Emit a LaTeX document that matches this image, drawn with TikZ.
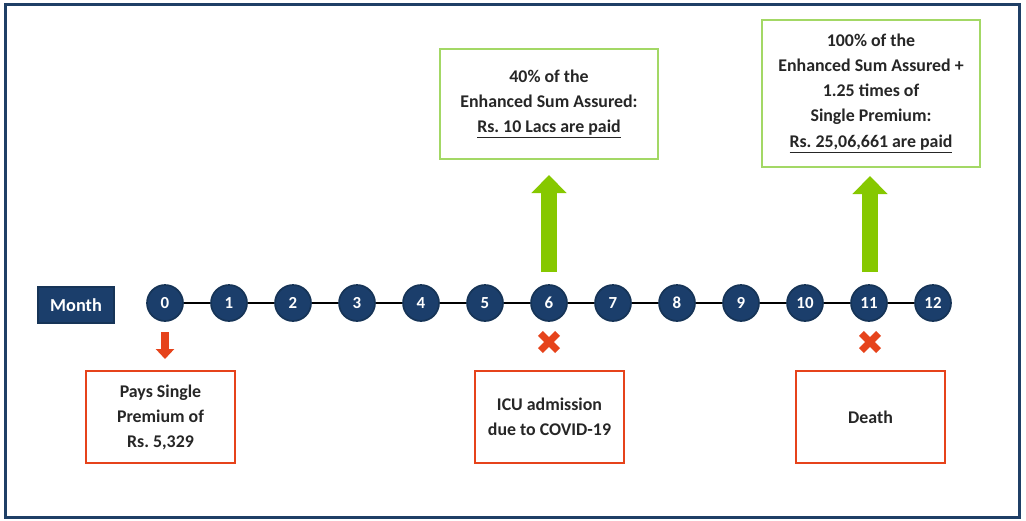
\documentclass[tikz,border=0pt]{standalone}
\usepackage{fontspec}
\setmainfont{Carlito}
\usetikzlibrary{arrows.meta, shapes.misc}
\frenchspacing

\definecolor{navy}{HTML}{1B3E6B}
\definecolor{navyline}{HTML}{163457}
\definecolor{framec}{HTML}{1F3F66}
\definecolor{greenc}{HTML}{86C800}
\definecolor{greenline}{HTML}{A3D865}
\definecolor{redc}{HTML}{E6431B}
\definecolor{textc}{HTML}{262626}

\tikzset{
	boxfont/.style		= {font=\bfseries\fontsize{12.7}{17.8}\selectfont, text=textc, align=center},
	monthbox/.style		= {draw=navyline, fill=navy, line width=1pt, minimum width=1.9cm, minimum height=0.9cm,
							text=white, font=\bfseries\fontsize{13}{15}\selectfont},
	mdot/.style			= {circle, draw=navyline, fill=navy, line width=1.2pt, minimum size=0.9cm, inner sep=0pt,
							text=white, font=\bfseries\fontsize{12}{14}\selectfont},
	paybox/.style		= {boxfont, draw=greenline, line width=1.3pt, minimum width=5.45cm},
	eventbox/.style		= {boxfont, draw=redc, line width=1pt, minimum width=3.725cm, minimum height=2.3cm},
	uparrow/.style		= {draw=greenc, line width=0.4cm, -{Triangle[length=0.45cm 0 0, width=0.85cm 0]}},
	downarrow/.style	= {draw=redc, line width=0.2cm, -{Triangle[length=0.25cm 0 0, width=0.45cm 0]}},
	crossmark/.style	= {cross out, draw=redc, line width=0.17cm, minimum size=0.26cm, inner sep=0pt},
}

\begin{document}
\begin{tikzpicture}[x=0.025cm, y=-0.025cm]
			\useasboundingbox	(0, 0) rectangle (1026, 520);
			\draw	[framec, line width=2.2pt]	(5.5, 4.5) rectangle (1019.5, 517.5);

			% time line
			\node	(month)	at	(76, 305)		[monthbox]	{Month};
			\node	(m0)	at	(165, 303)		[mdot]		{0};
			\node	(m1)	at	(229, 303)		[mdot]		{1};
			\node	(m2)	at	(293, 303)		[mdot]		{2};
			\node	(m3)	at	(357, 303)		[mdot]		{3};
			\node	(m4)	at	(421, 303)		[mdot]		{4};
			\node	(m5)	at	(485, 303)		[mdot]		{5};
			\node	(m6)	at	(549, 303)		[mdot]		{6};
			\node	(m7)	at	(613, 303)		[mdot]		{7};
			\node	(m8)	at	(677, 303)		[mdot]		{8};
			\node	(m9)	at	(741, 303)		[mdot]		{9};
			\node	(m10)	at	(805, 303)		[mdot]		{10};
			\node	(m11)	at	(869, 303)		[mdot]		{11};
			\node	(m12)	at	(933, 303)		[mdot]		{12};
			\draw	[line width=1.5pt]	(m0) -- (m1) -- (m2) -- (m3) -- (m4) -- (m5) -- (m6) -- (m7)
										-- (m8) -- (m9) -- (m10) -- (m11) -- (m12);

			% payouts
			\node	(pay6)	at	(549, 104)		[paybox, minimum height=2.75cm]
					{40\% of the\\Enhanced Sum Assured:\\\underline{Rs. 10 Lacs are paid}};
			\node	(pay11)	at	(871, 93.5)		[paybox, minimum height=3.675cm]
					{100\% of the\\Enhanced Sum Assured +\\1.25 times of\\Single Premium:\\\underline{Rs. 25,06,661 are paid}};
			\coordinate	(g6a)	at	(549, 272);
			\coordinate	(g6b)	at	(549, 175);
			\coordinate	(g11a)	at	(870, 272);
			\coordinate	(g11b)	at	(870, 176);
			\draw	[uparrow]	(g6a)	--	(g6b);
			\draw	[uparrow]	(g11a)	--	(g11b);

			% events
			\coordinate	(r0a)	at	(165, 332);
			\coordinate	(r0b)	at	(165, 359);
			\draw	[downarrow]	(r0a)	--	(r0b);
			\node	(x6)	at	(549, 342)		[crossmark]	{};
			\node	(x11)	at	(870, 342)		[crossmark]	{};
			\node	(ev0)	at	(160.5, 417)	[eventbox]	{Pays Single\\Premium of\\Rs. 5,329};
			\node	(ev6)	at	(549.5, 417)	[eventbox]	{ICU admission\\due to COVID-19};
			\node	(ev11)	at	(870.5, 417)	[eventbox]	{Death};
		\end{tikzpicture}
\end{document}
